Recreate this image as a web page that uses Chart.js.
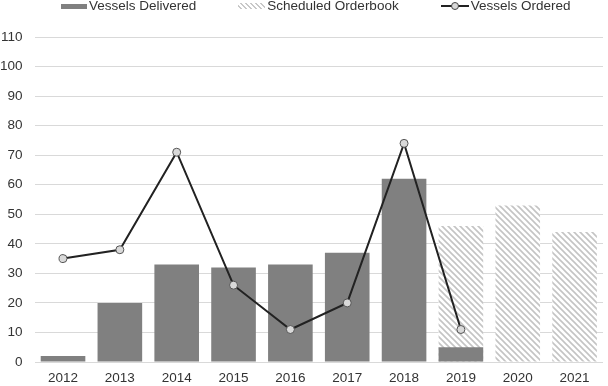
<!DOCTYPE html>
<html>
    <head>
        <script src="https://cdn.jsdelivr.net/npm/chart.js@4.4.1/dist/chart.umd.min.js"></script>
        <style>
            body { margin: 0; background: #fff; font-family: "Liberation Sans", Arial, sans-serif; }
            .wrap { position: relative; width: 608px; height: 386px; }
            .wrap canvas { display: block; }
            .legend { position: absolute; top: -2px; left: 61px; width: 547px; height: 16px; display: flex; white-space: nowrap; font-size: 13.5px; color: #333; line-height: 16px; }
            .item { display: flex; flex: none; align-items: center; margin-right: 42px; }
            .icon { display: inline-block; flex: none; width: 26px; height: 5px; margin-right: 2px; }
            .delivered { background: #808080; }
            .orderbook { width: 27px; height: 6px; background: repeating-linear-gradient(45deg, #fff 0 2px, #c8c8c8 2px 3.5px); }
            .ordered { position: relative; width: 28px; height: 8px; }
            .ordered:before { content: ''; position: absolute; left: 0; right: 0; top: 3px; height: 2px; background: #222; }
            .ordered:after { content: ''; position: absolute; left: 10px; top: 0; width: 6px; height: 6px; border: 1px solid #444; border-radius: 50%; background: #d9d9d9; }
        </style>
    </head>
    <body>
        <div class="wrap">
            <canvas id="myChart" width="608" height="386"></canvas>
            <div class="legend">
                <span class="item"><span class="icon delivered"></span>Vessels Delivered</span>
                <span class="item"><span class="icon orderbook"></span>Scheduled Orderbook</span>
                <span class="item"><span class="icon ordered"></span>Vessels Ordered</span>
            </div>
        </div>

        <script>
            const years = ['2012', '2013', '2014', '2015', '2016', '2017', '2018', '2019', '2020', '2021'];
            const delivered = [2, 20, 33, 32, 33, 37, 62, 5, null, null];
            const orderbook = [null, null, null, null, null, null, null, 46, 53, 44];
            const ordered = [35, 38, 71, 26, 11, 20, 74, 11, null, null];

            // diagonal hatch for the orderbook bars
            function makeHatch() {
                const c = document.createElement('canvas');
                c.width = 6;
                c.height = 6;
                const g = c.getContext('2d');
                g.fillStyle = '#fff';
                g.fillRect(0, 0, 6, 6);
                g.strokeStyle = '#c4c4c4';
                g.lineWidth = 1.6;
                g.beginPath();
                g.moveTo(-1, -1); g.lineTo(7, 7);
                g.moveTo(-4, 2); g.lineTo(4, 10);
                g.moveTo(2, -4); g.lineTo(10, 4);
                g.stroke();
                return g.createPattern(c, 'repeat');
            }

            const CTX = document.getElementById('myChart').getContext('2d');
            const hatch = makeHatch();
            const tickFont = { family: 'Liberation Sans', size: 13.5 };

            const chart = new Chart(CTX, {
                type: 'bar',
                data: {
                    labels: years,
                    datasets: [
                        {
                            type: 'line',
                            label: 'Vessels Ordered',
                            data: ordered,
                            borderColor: '#222',
                            borderWidth: 2,
                            pointRadius: 4,
                            pointBackgroundColor: '#d9d9d9',
                            pointBorderColor: '#555',
                            pointBorderWidth: 1,
                            tension: 0,
                            order: 0,
                        },
                        {
                            label: 'Vessels Delivered',
                            data: delivered,
                            backgroundColor: '#808080',
                            order: 1,
                        },
                        {
                            label: 'Scheduled Orderbook',
                            data: orderbook,
                            backgroundColor: hatch,
                            order: 2,
                        },
                    ],
                },
                options: {
                    responsive: false,
                    animation: false,
                    layout: { padding: { top: 37, left: 0, right: 0, bottom: 0 } },
                    datasets: {
                        bar: { grouped: false, categoryPercentage: 1, barPercentage: 0.785 },
                    },
                    plugins: {
                        legend: { display: false },
                        tooltip: { enabled: false },
                    },
                    scales: {
                        x: {
                            grid: { display: false, drawTicks: false },
                            border: { display: false },
                            ticks: { color: '#333', font: tickFont, padding: 8 },
                            afterFit: (scale) => { scale.height = 24; },
                        },
                        y: {
                            min: 0,
                            max: 110,
                            border: { display: false },
                            grid: { color: '#d9d9d9', drawTicks: false },
                            ticks: { stepSize: 10, color: '#333', font: tickFont, padding: 12 },
                            afterFit: (scale) => { scale.width = 34.6; },
                        },
                    },
                },
            });
        </script>
    </body>
</html>
